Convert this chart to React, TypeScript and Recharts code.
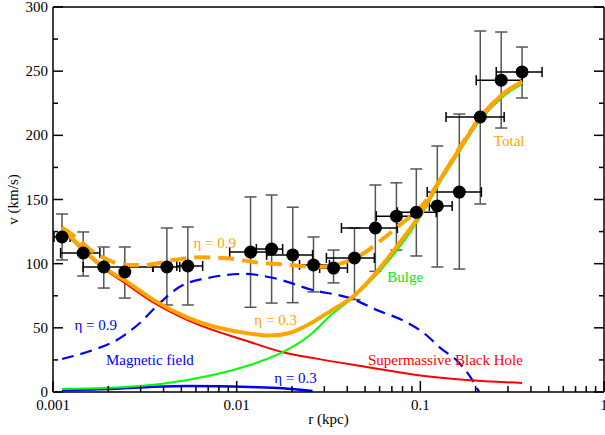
import React from 'react'
import { ComposedChart, Line, Scatter, ErrorBar, XAxis, YAxis, ReferenceDot } from 'recharts'

const FONT = "'Liberation Serif', 'Times New Roman', Times, serif"
const textStyle = { fontFamily: FONT, fontSize: 15 }

// axis ticks
const xMajor = [0.001, 0.01, 0.1, 1]
const xTicks = [
  0.001, 0.002, 0.003, 0.004, 0.005, 0.006, 0.007, 0.008, 0.009,
  0.01, 0.02, 0.03, 0.04, 0.05, 0.06, 0.07, 0.08, 0.09,
  0.1, 0.2, 0.3, 0.4, 0.5, 0.6, 0.7, 0.8, 0.9, 1,
]
const yMajor = [0, 50, 100, 150, 200, 250, 300]
const yTicks = [0, 25, 50, 75, 100, 125, 150, 175, 200, 225, 250, 275, 300]

// observed rotation curve: r (kpc), v (km/s) with error ranges
const obsR = [0.00112, 0.00146, 0.00189, 0.00246, 0.00417, 0.00542, 0.0119, 0.0155, 0.0202, 0.0262, 0.0337, 0.0438, 0.0569, 0.0741, 0.0951, 0.1237, 0.163, 0.212, 0.2756, 0.358]
const obsV = [120.8, 108.3, 97.4, 93.5, 97.4, 98.2, 109, 111.4, 106.8, 99, 96.6, 104.4, 127.8, 137, 140, 145, 155.8, 214.3, 243, 249.4]
const obsVLow = [102.9, 90.4, 81, 73.2, 67.8, 67.8, 66, 69.3, 69.6, 78, 85, 72, 94, 110.6, 106, 97.4, 95.8, 146.5, 205.7, 229.1]
const obsVHigh = [138.7, 124.7, 113, 113, 127.8, 128.6, 152, 153.5, 144, 120.8, 110.6, 127.8, 161.3, 163, 173.8, 191.7, 216.6, 281.3, 280.5, 268.8]
const obsRLow = [0.001013, 0.0011, 0.00146, 0.00246, 0.0035, 0.00472, 0.00916, 0.0128, 0.01456, 0.022, 0.0283, 0.0308, 0.0372, 0.0576, 0.075, 0.112, 0.109, 0.138, 0.2015, 0.259]
const obsRHigh = [0.00124, 0.0018, 0.0035, 0.00246, 0.0049, 0.00653, 0.01456, 0.0178, 0.0259, 0.032, 0.0401, 0.0562, 0.075, 0.0951, 0.122, 0.149, 0.215, 0.286, 0.358, 0.46]

// Total, eta = 0.3 (solid orange)
const total03R = [0.00112, 0.00146, 0.00189, 0.00246, 0.0035, 0.0054, 0.0118, 0.0151, 0.0194, 0.0249, 0.0332, 0.0427, 0.0528, 0.0741, 0.1025, 0.13, 0.163, 0.212, 0.2755, 0.358]
const total03V = [128, 111, 97, 87, 72, 58, 45.5, 44, 46, 53, 64, 74, 87, 113, 141, 167, 189, 214, 231, 242]

// Total, eta = 0.9 (dashed orange)
const total09R = [0.00112, 0.00132, 0.00159, 0.00199, 0.00246, 0.00316, 0.0046, 0.00629, 0.00916, 0.0128, 0.0194, 0.0259, 0.032, 0.0386, 0.0466, 0.0621, 0.0769, 0.0988, 0.132, 0.163, 0.212, 0.2755, 0.358]
const total09V = [128, 121, 111, 103, 99, 99, 103, 105, 104, 101, 99, 97.5, 98, 101, 106, 119, 130, 143, 168, 190, 214, 231, 242]

// Supermassive black hole
const smbhR = [0.00112, 0.00146, 0.00189, 0.00246, 0.0035, 0.0054, 0.0118, 0.0178, 0.0272, 0.0509, 0.0951, 0.178, 0.358]
const smbhV = [127, 110, 96, 85, 70, 56, 39, 31, 26, 19.5, 13.2, 9.4, 7]

// Bulge
const bulgeR = [0.00112, 0.00297, 0.0054, 0.0118, 0.0178, 0.0249, 0.0332, 0.0427, 0.0741, 0.1025, 0.13, 0.163, 0.212, 0.2755, 0.358]
const bulgeV = [2.3, 4.7, 9.4, 21, 31, 44, 61, 73, 110, 139, 165, 187, 212, 229, 240]

// Magnetic field, eta = 0.9 (dashed blue)
const mag09R = [0.00112, 0.00165, 0.00223, 0.00297, 0.00382, 0.0049, 0.00741, 0.01105, 0.0157, 0.0259, 0.0427, 0.0576, 0.0839, 0.1078, 0.1269, 0.163, 0.1917, 0.209]
const mag09V = [25.7, 32.7, 40.5, 53.8, 69.4, 82, 89.6, 92, 89, 79.5, 72.5, 64, 54.5, 44.4, 35, 22.6, 9.4, 0]

// Magnetic field, eta = 0.3 (solid blue)
const mag03R = [0.00112, 0.0022, 0.0035, 0.0054, 0.0118, 0.0178, 0.0259]
const mag03V = [1.5, 2.5, 4, 4.7, 3.9, 3, 0.8]

// text annotations placed in data coordinates
const notes = [
  { text: 'Total', r: 0.3046, v: 195.6, color: '#ffa500' },
  { text: 'η = 0.9', r: 0.00759, v: 116.1, color: '#ffa500' },
  { text: 'η = 0.3', r: 0.0163, v: 56.1, color: '#ffa500' },
  { text: 'Bulge', r: 0.0828, v: 89.6, color: '#00ee00' },
  { text: 'Supermassive Black Hole', r: 0.137, v: 24.9, color: '#ff0000' },
  { text: 'η = 0.3', r: 0.0209, v: 10.9, color: '#0000ff' },
  { text: 'Magnetic field', r: 0.00337, v: 24.9, color: '#0000ff' },
  { text: 'η = 0.9', r: 0.00171, v: 52.2, color: '#0000ff' },
]

const toSeries = (rs: number[], vs: number[]) => rs.map((r, i) => ({ r, v: vs[i] }))

const obsData = obsR.map((r, i) => ({
  r,
  v: obsV[i],
  ex: [r - obsRLow[i], obsRHigh[i] - r],
  ey: [obsV[i] - obsVLow[i], obsVHigh[i] - obsV[i]],
}))

const BottomTick = (props: any) => {
  const { x, y, payload } = props
  const major = xMajor.includes(payload.value)
  return (
    <g>
      <line x1={x} y1={y} x2={x} y2={y - (major ? 11 : 6)} stroke="#000" strokeWidth={1.5} />
      {major && (
        <text x={x} y={y + 18} textAnchor="middle" fill="#000" style={textStyle}>
          {String(payload.value)}
        </text>
      )}
    </g>
  )
}

const TopTick = (props: any) => {
  const { x, y, payload } = props
  const major = xMajor.includes(payload.value)
  return <line x1={x} y1={y} x2={x} y2={y + (major ? 11 : 6)} stroke="#000" strokeWidth={1.5} />
}

const LeftTick = (props: any) => {
  const { x, y, payload } = props
  const major = yMajor.includes(payload.value)
  return (
    <g>
      <line x1={x} y1={y} x2={x + (major ? 10 : 5)} y2={y} stroke="#000" strokeWidth={1.5} />
      {major && (
        <text x={x - 5} y={y + 5} textAnchor="end" fill="#000" style={textStyle}>
          {payload.value}
        </text>
      )}
    </g>
  )
}

const RightTick = (props: any) => {
  const { x, y, payload } = props
  const major = yMajor.includes(payload.value)
  return <line x1={x} y1={y} x2={x - (major ? 10 : 5)} y2={y} stroke="#000" strokeWidth={1.5} />
}

const axisLine = { stroke: '#000', strokeWidth: 1.5 }

export default function App() {
  return (
    <div style={{ position: 'absolute', left: 0, top: 0, width: 605, height: 435, background: '#fff', fontFamily: FONT }}>
      <ComposedChart width={605} height={435} margin={{ top: 0, right: 0, bottom: 0, left: 0 }} style={{ fontFamily: FONT }}>
        <XAxis
          dataKey="r"
          type="number"
          scale="log"
          domain={[0.001, 1]}
          allowDataOverflow
          ticks={xTicks}
          interval={0}
          tickSize={0}
          tickMargin={0}
          tickLine={false}
          axisLine={axisLine}
          tick={<BottomTick />}
          height={43}
          label={{ value: 'r (kpc)', position: 'insideBottom', offset: 11, fill: '#000', style: textStyle }}
        />
        <XAxis
          xAxisId="top"
          orientation="top"
          type="number"
          scale="log"
          domain={[0.001, 1]}
          allowDataOverflow
          ticks={xTicks}
          interval={0}
          tickSize={0}
          tickMargin={0}
          tickLine={false}
          axisLine={axisLine}
          tick={<TopTick />}
          height={7}
        />
        <YAxis
          type="number"
          domain={[0, 300]}
          allowDataOverflow
          ticks={yTicks}
          interval={0}
          tickSize={0}
          tickMargin={0}
          tickLine={false}
          axisLine={axisLine}
          tick={<LeftTick />}
          width={53}
          label={{ value: 'v (km/s)', angle: -90, position: 'insideLeft', offset: 13, fill: '#000', style: { ...textStyle, textAnchor: 'middle' } }}
        />
        <YAxis
          yAxisId="right"
          orientation="right"
          type="number"
          domain={[0, 300]}
          allowDataOverflow
          ticks={yTicks}
          interval={0}
          tickSize={0}
          tickMargin={0}
          tickLine={false}
          axisLine={axisLine}
          tick={<RightTick />}
          width={1}
        />

        {/* error bars below the model curves */}
        <Scatter data={obsData} dataKey="v" shape={() => <g />} isAnimationActive={false}>
          <ErrorBar dataKey="ey" direction="y" width={6} stroke="#555" strokeWidth={1.5} isAnimationActive={false} />
          <ErrorBar dataKey="ex" direction="x" width={5} stroke="#000" strokeWidth={1.5} isAnimationActive={false} />
        </Scatter>

        <Line data={toSeries(mag09R, mag09V)} dataKey="v" type="monotone" stroke="#0000ff" strokeWidth={2.2} strokeDasharray="12 7" dot={false} isAnimationActive={false} />
        <Line data={toSeries(mag03R, mag03V)} dataKey="v" type="monotone" stroke="#0000ff" strokeWidth={2.5} dot={false} isAnimationActive={false} />
        <Line data={toSeries(smbhR, smbhV)} dataKey="v" type="monotone" stroke="#ff0000" strokeWidth={2} dot={false} isAnimationActive={false} />
        <Line data={toSeries(bulgeR, bulgeV)} dataKey="v" type="monotone" stroke="#00ff00" strokeWidth={2} dot={false} isAnimationActive={false} />
        <Line data={toSeries(total09R, total09V)} dataKey="v" type="monotone" stroke="#ffa500" strokeWidth={4} strokeDasharray="16 8" dot={false} isAnimationActive={false} />
        <Line data={toSeries(total03R, total03V)} dataKey="v" type="monotone" stroke="#ffa500" strokeWidth={4} dot={false} isAnimationActive={false} />

        <Scatter
          data={obsData}
          dataKey="v"
          shape={(p: any) => <circle cx={p.cx} cy={p.cy} r={6.5} fill="#000" />}
          isAnimationActive={false}
        />

        {notes.map((n, i) => (
          <ReferenceDot
            key={i}
            x={n.r}
            y={n.v}
            r={0}
            shape={(p: any) => (
              <text x={p.cx} y={p.cy + 5} textAnchor="middle" fill={n.color} style={textStyle}>
                {n.text}
              </text>
            )}
          />
        ))}
      </ComposedChart>
    </div>
  )
}
